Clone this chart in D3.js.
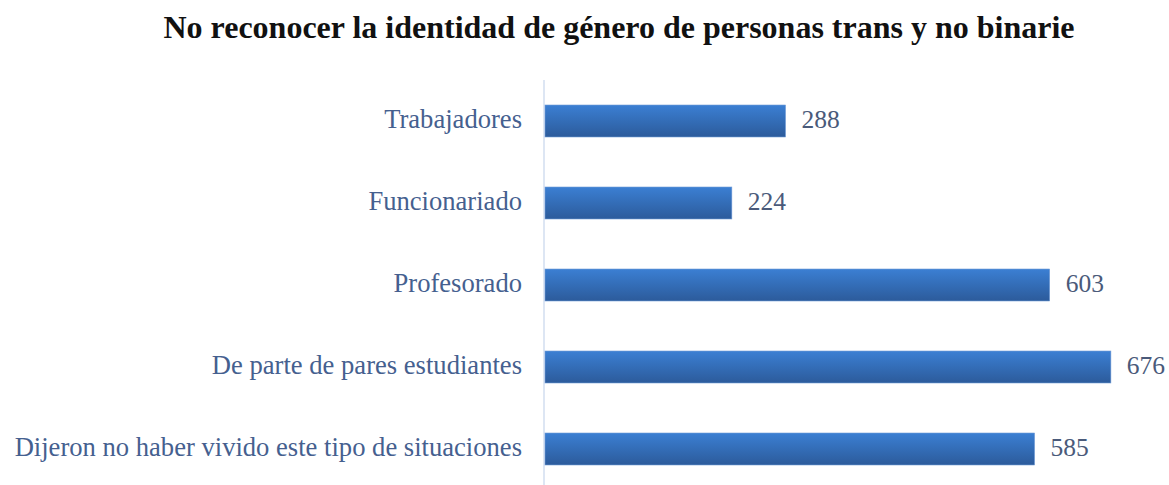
<!DOCTYPE html>
<html>
<head>
<meta charset="utf-8">
<script src="https://cdn.jsdelivr.net/npm/d3@7/dist/d3.min.js"></script>
<style>
html,body{margin:0;padding:0;background:#fff;}
svg{display:block;}
</style>
</head>
<body>
<svg id="chart" width="1169" height="485"></svg>
<script>
const title = "No reconocer la identidad de género de personas trans y no binarie";
const categories = [
  "Trabajadores",
  "Funcionariado",
  "Profesorado",
  "De parte de pares estudiantes",
  "Dijeron no haber vivido este tipo de situaciones"
];
const values = [288, 224, 603, 676, 585];

const svg = d3.select("#chart");

const defs = svg.append("defs");
const grad = defs.append("linearGradient").attr("id","barGrad")
  .attr("x1","0").attr("y1","0").attr("x2","0").attr("y2","1");
grad.append("stop").attr("offset","0%").attr("stop-color","#3b7fd3");
grad.append("stop").attr("offset","100%").attr("stop-color","#2c5b9b");

const x = d3.scaleLinear().domain([0, 700]).range([544, 1131]);
const y = d3.scaleBand().domain(categories).range([80, 490])
  .paddingInner(0.61).paddingOuter(0.305);

// title
svg.append("text")
  .attr("x", 619).attr("y", 38)
  .attr("text-anchor","middle")
  .attr("font-family","'Liberation Serif', 'Times New Roman', serif")
  .attr("font-weight","bold")
  .attr("font-size", 32)
  .attr("fill","#111")
  .text(title);

// axis
const yAxis = d3.axisLeft(y).tickSize(0).tickPadding(22);
const gAxis = svg.append("g").attr("transform", `translate(${x(0)},0)`).call(yAxis);
gAxis.select(".domain").attr("stroke","#c6d6ec").attr("stroke-width",1.2)
  .attr("d", `M0,80V485`);
gAxis.selectAll("text")
  .attr("font-family","'Liberation Serif', 'Times New Roman', serif")
  .attr("font-size", 26.6)
  .attr("fill","#45608f")
  .attr("dy","0.27em");

// bars
svg.append("g").selectAll("rect")
  .data(values)
  .join("rect")
  .attr("x", x(0) + 1)
  .attr("y", (d,i) => y(categories[i]))
  .attr("width", d => x(d) - x(0) - 1)
  .attr("height", y.bandwidth())
  .attr("fill","url(#barGrad)")
  .attr("stroke","#6f9ad6")
  .attr("stroke-width",0.6);

// value labels
svg.append("g").selectAll("text")
  .data(values)
  .join("text")
  .attr("x", d => x(d) + 16)
  .attr("y", (d,i) => y(categories[i]) + y.bandwidth()/2)
  .attr("dy","0.27em")
  .attr("font-family","'Liberation Serif', 'Times New Roman', serif")
  .attr("font-size", 25.5)
  .attr("fill","#4a5a7a")
  .text(d => d);
</script>
</body>
</html>
